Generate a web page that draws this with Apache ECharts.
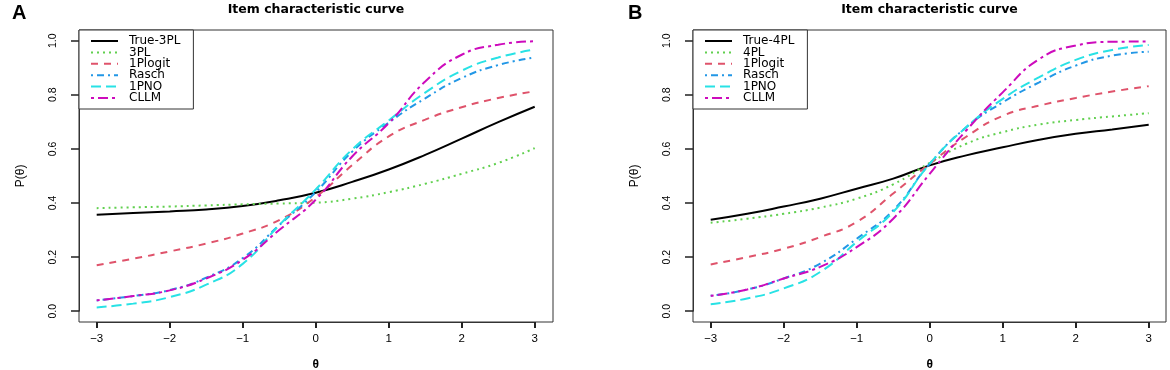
<!DOCTYPE html>
<html>
<head>
<meta charset="utf-8">
<script src="https://cdn.jsdelivr.net/npm/echarts@6/dist/echarts.min.js"></script>
<style>
  html, body { margin: 0; padding: 0; background: #fff; }
  #chart { width: 1170px; height: 370px; }
</style>
</head>
<body>
<div id="chart"></div>
<script>
// theta grid (x values read at every 0.5)
const theta = [-3, -2.5, -2, -1.5, -1, -0.5, 0, 0.5, 1, 1.5, 2, 2.5, 3];

// panel A
const trueA   = [0.357, 0.363, 0.369, 0.376, 0.389, 0.410, 0.438, 0.478, 0.524, 0.578, 0.638, 0.699, 0.756];
const pl3A    = [0.381, 0.384, 0.387, 0.391, 0.395, 0.398, 0.401, 0.416, 0.440, 0.471, 0.508, 0.548, 0.603];
const logitA  = [0.170, 0.194, 0.221, 0.250, 0.287, 0.337, 0.422, 0.540, 0.646, 0.708, 0.754, 0.788, 0.813];
const raschA  = [0.040, 0.056, 0.078, 0.124, 0.196, 0.318, 0.440, 0.590, 0.697, 0.787, 0.862, 0.910, 0.938];
const pnoA    = [0.014, 0.028, 0.052, 0.098, 0.175, 0.318, 0.450, 0.598, 0.705, 0.808, 0.889, 0.938, 0.967];
const cllmA   = [0.040, 0.056, 0.077, 0.121, 0.190, 0.300, 0.412, 0.572, 0.695, 0.849, 0.948, 0.985, 0.998];

// panel B
const trueB   = [0.338, 0.360, 0.387, 0.416, 0.453, 0.490, 0.539, 0.576, 0.606, 0.634, 0.656, 0.672, 0.689];
const pl4B    = [0.327, 0.342, 0.360, 0.383, 0.416, 0.469, 0.548, 0.619, 0.662, 0.690, 0.707, 0.720, 0.732];
const logitB  = [0.173, 0.200, 0.231, 0.274, 0.330, 0.435, 0.545, 0.645, 0.722, 0.760, 0.788, 0.812, 0.832];
const raschB  = [0.057, 0.080, 0.121, 0.176, 0.268, 0.373, 0.545, 0.680, 0.772, 0.846, 0.908, 0.945, 0.959];
const pnoB    = [0.026, 0.047, 0.084, 0.145, 0.256, 0.367, 0.545, 0.680, 0.785, 0.865, 0.929, 0.966, 0.984];
const cllmB   = [0.057, 0.080, 0.121, 0.164, 0.237, 0.342, 0.508, 0.668, 0.809, 0.932, 0.982, 0.996, 0.997];

const font = 'Liberation Sans, Arial, sans-serif';
const wide = 'DejaVu Sans, sans-serif';
const axisCol = '#333';

// R palette + lty
const styles = {
  solid:   { color: '#000000', type: 'solid' },
  dotted:  { color: '#61D04F', type: [2, 4] },
  dashed:  { color: '#DF536B', type: [7, 6] },
  dotdash: { color: '#2297E6', type: [2, 4, 7, 4] },
  longdash:{ color: '#28E2E5', type: [10, 5] },
  twodash: { color: '#CD0BBC', type: [3, 4, 10, 4] }
};

function line(name, vals, st, idx) {
  return {
    name: name,
    type: 'line',
    xAxisIndex: idx,
    yAxisIndex: idx,
    data: theta.map((t, i) => [t, vals[i]]),
    smooth: 0.5,
    symbol: 'none',
    clip: false,
    color: st.color,
    lineStyle: { color: st.color, type: st.type, width: 2 },
    emphasis: { disabled: true }
  };
}

const minus = v => String(v).replace('-', '\u2212');

// data grids span exactly -3..3 and 0..1; axes are pushed out to the box like R does
function xAx(idx) {
  return {
    type: 'value', gridIndex: idx, min: -3, max: 3, interval: 1, offset: 10.8,
    name: 'θ', nameLocation: 'middle', nameGap: 37,
    nameTextStyle: { fontFamily: font, fontSize: 12, color: '#000', fontWeight: 'bold' },
    axisLine: { show: true, onZero: false, lineStyle: { color: axisCol, width: 1 } },
    axisTick: { show: true, inside: false, length: 6, lineStyle: { color: '#222', width: 2 } },
    axisLabel: { margin: 11, fontFamily: font, fontSize: 11.5, color: '#000', formatter: minus },
    splitLine: { show: false }
  };
}
function yAx(idx) {
  return {
    type: 'value', gridIndex: idx, min: 0, max: 1, interval: 0.2, offset: 17.7,
    name: 'P(θ)', nameLocation: 'middle', nameGap: 52, nameRotate: 90,
    nameTextStyle: { fontFamily: font, fontSize: 12, color: '#000' },
    axisLine: { show: true, onZero: false, lineStyle: { color: axisCol, width: 1 } },
    axisTick: { show: true, inside: false, length: 8, lineStyle: { color: '#222', width: 1.5 } },
    axisLabel: { rotate: 90, margin: 20, fontFamily: font, fontSize: 10.5, color: '#000',
                 formatter: v => v.toFixed(1) },
    splitLine: { show: false }
  };
}
// empty axes for the frame grids
const hidden = idx => ({ type: 'value', gridIndex: idx, show: false, min: 0, max: 1 });

function legend(left, names) {
  return {
    orient: 'vertical', left: left, top: 30,
    data: names,
    itemWidth: 27, itemHeight: 8, itemGap: -0.6,
    padding: [5, 13, 5, 11],
    borderColor: '#333', borderWidth: 1, backgroundColor: '#fff',
    selectedMode: false,
    itemStyle: { color: 'rgba(0,0,0,0)', borderColor: 'rgba(0,0,0,0)', borderWidth: 0 },
    textStyle: { fontFamily: wide, fontSize: 12, color: '#000', padding: [0, 0, 0, 6] }
  };
}

const namesA = ['True-3PL', '3PL', '1Plogit', 'Rasch', '1PNO', 'CLLM'];
const namesB = ['True-4PL', '4PL', '1Plogit', 'Rasch', '1PNO', 'CLLM'];

const chart = echarts.init(document.getElementById('chart'), null, { renderer: 'canvas' });
chart.setOption({
  animation: false,
  backgroundColor: '#fff',
  grid: [
    { left: 96.7, top: 40.7, width: 438, height: 270.5, outerBoundsMode: 'none' },
    { left: 710.7, top: 40.7, width: 438, height: 270.5, outerBoundsMode: 'none' },
    { left: 79, top: 30, width: 474, height: 292, show: true, borderColor: axisCol, borderWidth: 1, backgroundColor: 'transparent', outerBoundsMode: 'none' },
    { left: 693, top: 30, width: 473, height: 292, show: true, borderColor: axisCol, borderWidth: 1, backgroundColor: 'transparent', outerBoundsMode: 'none' }
  ],
  xAxis: [xAx(0), xAx(1), hidden(2), hidden(3)],
  yAxis: [yAx(0), yAx(1), hidden(2), hidden(3)],
  legend: [legend(79, namesA), legend(693, namesB)],
  graphic: [
    { type: 'text', left: 12, top: 3, style: { text: 'A', font: 'bold 20px ' + font, fill: '#000' } },
    { type: 'text', left: 628, top: 3, style: { text: 'B', font: 'bold 20px ' + font, fill: '#000' } },
    { type: 'text', x: 316, y: 3, style: { text: 'Item characteristic curve', font: 'bold 12.5px ' + wide, fill: '#000', textAlign: 'center' } },
    { type: 'text', x: 929.5, y: 3, style: { text: 'Item characteristic curve', font: 'bold 12.5px ' + wide, fill: '#000', textAlign: 'center' } }
  ],
  series: [
    line('True-3PL', trueA, styles.solid, 0),
    line('3PL', pl3A, styles.dotted, 0),
    line('1Plogit', logitA, styles.dashed, 0),
    line('Rasch', raschA, styles.dotdash, 0),
    line('1PNO', pnoA, styles.longdash, 0),
    line('CLLM', cllmA, styles.twodash, 0),
    line('True-4PL', trueB, styles.solid, 1),
    line('4PL', pl4B, styles.dotted, 1),
    line('1Plogit', logitB, styles.dashed, 1),
    line('Rasch', raschB, styles.dotdash, 1),
    line('1PNO', pnoB, styles.longdash, 1),
    line('CLLM', cllmB, styles.twodash, 1)
  ]
});
</script>
</body>
</html>
